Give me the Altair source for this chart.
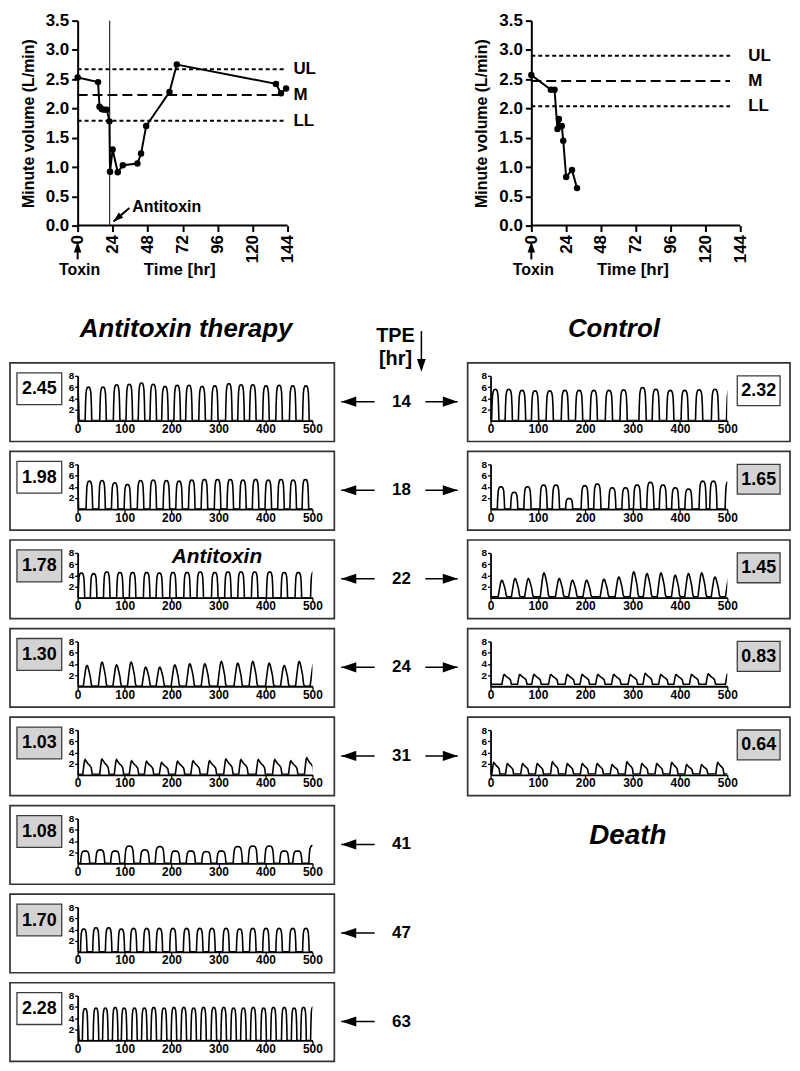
import altair as alt
import pandas as pd

FONT = "Liberation Sans"
BOX_GRAY = "#d3d3d3"
FRAME = "#333333"
ARROW = "M0,0L1,-0.34L1,0.34Z"

# ---------------- minute volume (top panels) ----------------
antitoxin_time = [0, 14, 15, 16.5, 18, 20, 21.8, 22.2, 24, 27.5, 31, 41, 43.5, 47, 63, 68, 136, 139.5, 143]
antitoxin_mv = [2.53, 2.45, 2.03, 1.99, 1.98, 1.98, 1.78, 0.92, 1.30, 0.91, 1.03, 1.06, 1.23, 1.70, 2.28, 2.75, 2.42, 2.26, 2.34]
control_time = [0, 13.5, 16, 18, 19, 19.8, 21, 22, 24, 28, 31.5]
control_mv = [2.57, 2.32, 2.32, 1.65, 1.82, 1.70, 1.70, 1.45, 0.83, 0.95, 0.64]
limit_names = ["UL", "M", "LL"]
antitoxin_limits = [2.67, 2.23, 1.79]
control_limits = [2.90, 2.47, 2.04]
antitoxin_dose_time = 22
time_ticks = [0, 24, 48, 72, 96, 120, 144]
mv_ticks = [0, 0.5, 1, 1.5, 2, 2.5, 3, 3.5]

# ---------------- breathing traces (bottom panels) ----------------
tpe_hours = [14, 18, 22, 24, 31, 41, 47, 63]
antitoxin_box = [2.45, 1.98, 1.78, 1.30, 1.03, 1.08, 1.70, 2.28]
control_box = [2.32, 1.65, 1.45, 0.83, 0.64]
wave_ticks_x = [0, 100, 200, 300, 400, 500]
wave_ticks_y = [2, 4, 6, 8]

# peak times (x axis units) and peak heights of each breath
a14_t = [-4, 23, 54, 83, 110, 136, 161, 186, 212, 237, 265, 292, 322, 348, 373, 401, 429, 458, 486]
a14_h = [6.0, 6.0, 6.0, 6.4, 6.5, 6.7, 6.5, 6.1, 6.3, 6.3, 6.1, 6.2, 6.6, 6.4, 6.4, 6.2, 6.3, 6.2, 6.2]
a18_t = [-5, 25, 52, 79, 106, 134, 161, 189, 216, 243, 270, 298, 325, 352, 379, 406, 433, 459, 485]
a18_h = [5.0, 5.0, 5.1, 4.7, 4.4, 5.1, 5.2, 5.1, 5.0, 5.2, 5.3, 5.3, 5.3, 5.2, 5.3, 5.2, 5.3, 5.2, 5.3]
a22_t = [8, 34, 62, 90, 117, 147, 174, 203, 233, 261, 292, 320, 348, 377, 409, 440, 470, 503]
a22_h = [4.4, 4.3, 4.6, 4.5, 4.5, 4.5, 4.4, 4.5, 4.5, 4.6, 4.5, 4.6, 4.6, 4.6, 4.6, 4.5, 4.5, 4.6]
a24_t = [20, 52, 83, 114, 145, 175, 207, 239, 271, 306, 341, 373, 408, 440, 472, 503]
a24_h = [3.7, 4.3, 3.8, 4.3, 3.4, 3.4, 3.8, 4.0, 4.0, 4.4, 4.1, 4.4, 4.1, 3.7, 4.4, 4.0]
a31_t = [16, 52, 83, 115, 147, 179, 213, 246, 281, 316, 348, 385, 420, 454, 488]
a31_h = [2.7, 2.8, 2.7, 2.5, 2.4, 2.2, 2.4, 2.5, 2.5, 2.8, 2.7, 2.7, 2.7, 2.5, 3.0]
a41_t = [16, 48, 80, 110, 143, 175, 208, 241, 274, 306, 341, 373, 408, 440, 468, 502]
a41_h = [2.2, 2.4, 2.2, 3.1, 2.4, 3.0, 2.2, 2.2, 2.1, 2.2, 3.0, 3.1, 3.1, 2.2, 2.2, 3.2]
a47_t = [13, 39, 66, 93, 119, 147, 174, 203, 232, 260, 286, 316, 345, 373, 401, 429, 458, 486]
a47_h = [4.1, 4.3, 4.3, 4.1, 4.2, 4.2, 4.2, 4.2, 4.2, 4.2, 4.2, 4.2, 4.1, 4.2, 4.2, 4.2, 4.2, 4.2]
a63_t = [-3, 16, 39, 59, 80, 99, 121, 142, 162, 184, 205, 226, 247, 268, 290, 311, 332, 353, 374, 396, 417, 440, 461, 481, 502]
a63_h = [3.5, 5.7, 5.8, 5.8, 5.9, 5.8, 5.8, 5.8, 5.9, 5.8, 5.9, 5.9, 5.8, 5.9, 5.9, 5.9, 5.8, 5.8, 5.9, 5.8, 5.9, 5.9, 5.8, 5.9, 6.0]
c14_t = [10, 38.5, 66.5, 94, 125, 157, 187, 218, 250, 281, 321, 349, 379.5, 410, 440.5, 474, 506]
c14_h = [5.6, 5.6, 5.4, 5.3, 5.3, 5.4, 5.4, 5.4, 5.4, 5.5, 5.9, 5.6, 5.4, 5.4, 5.5, 5.6, 5.6]
c18_t = [22, 50, 78, 112, 138, 166, 199, 225.5, 257, 285, 309.5, 337.5, 364, 390, 418, 448, 470.5, 503]
c18_h = [4.0, 3.0, 4.0, 4.3, 4.3, 1.9, 4.2, 4.5, 3.8, 3.8, 4.3, 4.8, 4.3, 3.8, 3.6, 5.0, 5.0, 4.9]
c22_t = [24, 52, 80, 113, 145, 173, 203, 239.5, 271, 302.5, 330.5, 360, 390, 418, 446, 474, 504]
c22_h = [3.1, 3.4, 3.4, 4.4, 3.4, 3.1, 3.1, 3.3, 3.7, 4.6, 4.3, 4.4, 4.0, 4.3, 4.4, 3.7, 3.6]
c24_t = [29, 62, 92, 127.5, 162.5, 194, 227, 260.5, 295.5, 327, 360, 392, 425, 460, 501]
c24_h = [2.1, 2.1, 2.1, 2.1, 2.1, 2.1, 2.1, 2.1, 2.1, 2.3, 2.1, 2.1, 2.1, 2.2, 2.2]
c31_t = [7, 36, 68, 99, 131, 162.5, 194, 225.5, 257, 288.5, 320, 351.5, 383, 414.5, 446, 480]
c31_h = [2.2, 2.0, 2.0, 2.0, 2.3, 2.0, 2.0, 2.0, 1.8, 2.3, 2.0, 2.0, 2.2, 1.8, 1.8, 2.2]

antitoxin_peaks = [(a14_t, a14_h), (a18_t, a18_h), (a22_t, a22_h), (a24_t, a24_h),
                   (a31_t, a31_h), (a41_t, a41_h), (a47_t, a47_h), (a63_t, a63_h)]
control_peaks = [(c14_t, c14_h), (c18_t, c18_h), (c22_t, c22_h), (c24_t, c24_h), (c31_t, c31_h)]

# breath outline style per panel: (template, stretch, resting baseline)
antitoxin_style = [("round", 1.0, 0), ("round", 1.0, 0), ("round", 1.0, 0), ("skew", 1.0, 0),
                   ("decay", 1.0, 0.1), ("round", 1.4, 0), ("round", 1.0, 0), ("round", 0.85, 0)]
control_style = [("round", 1.1, 0), ("round", 1.1, 0), ("skew", 1.0, 0.15), ("decay", 1.0, 0.35),
                 ("decay", 0.85, 0.15)]

BREATH_SHAPES = {
    "round": ([-7, -6.3, -5.3, -4, -2.3, 0, 2.3, 4, 5.3, 6.3, 7],
              [0, 0.45, 0.8, 0.93, 0.99, 1, 0.99, 0.93, 0.8, 0.45, 0]),
    "skew": ([-8, -5, -2.5, -1, 0, 1.5, 4, 7, 9, 11],
             [0, 0.5, 0.88, 0.98, 1, 0.96, 0.75, 0.45, 0.1, 0]),
    "decay": ([-5, -3, -1.2, 0, 2.5, 6, 10, 13, 15],
              [0, 0.55, 0.95, 1, 0.88, 0.72, 0.6, 0.45, 0]),
}


def breath_table(peak_t, peak_h, shape, stretch, base):
    offs, fracs = BREATH_SHAPES[shape]
    pts = []
    for t, h in zip(peak_t, peak_h):
        for o, f in zip(offs, fracs):
            pts.append((t + o * stretch, base + f * (h - base)))
    pts.sort()
    if pts[0][0] > 0:
        pts.insert(0, (0.0, base))
    if pts[-1][0] < 500:
        pts.append((500.0, base))
    return pd.DataFrame(pts, columns=["s", "p"])


# ---------------- top charts ----------------
TOP_H = 206


def mv_chart(times, vals, limits, line_end, label_x, plot_w, shift, dose=None):
    width = plot_w + shift
    px_hr = plot_w / 144.0
    xs = alt.Scale(domain=[-shift / px_hr, 144], nice=False, zero=False)
    ys = alt.Scale(domain=[0, 3.5], nice=False, zero=False)
    xax = alt.Axis(values=time_ticks, labelAngle=270, labelFontSize=17, labelPadding=3,
                   tickSize=6, tickWidth=2, domain=False, title=None, labelFlush=False,
                   labelOverlap=False, grid=False)
    yax = alt.Axis(values=mv_ticks, format=".1f", labelFontSize=17, labelPadding=3,
                   tickSize=6, tickWidth=2, domainWidth=2, title="Minute volume (L/min)",
                   titleFontSize=16, titlePadding=9, offset=-shift, labelFlush=False,
                   labelOverlap=False, grid=False)

    def X(f):
        return alt.X(f, scale=xs, axis=xax)

    def Y(f):
        return alt.Y(f, scale=ys, axis=yax)

    df = pd.DataFrame({"t": times, "v": vals, "i": list(range(len(times)))})
    lim = pd.DataFrame({"name": limit_names, "lv": limits, "a": [0] * 3,
                        "b": [line_end] * 3, "xl": [label_x] * 3})
    base = pd.DataFrame({"a": [0], "b": [144], "z": [0]})
    zero = pd.DataFrame({"t": [0], "tt": [70]})

    layers = [
        alt.Chart(base).mark_rule(color="black", strokeWidth=2).encode(
            x=X("a:Q"), x2="b:Q", y=Y("z:Q")),
        alt.Chart(lim).mark_rule(color="black", strokeWidth=2).encode(
            x=X("a:Q"), x2="b:Q", y=Y("lv:Q"),
            strokeDash=alt.StrokeDash("name:N", legend=None,
                                      scale=alt.Scale(domain=limit_names,
                                                      range=[[4, 3], [10, 5], [4, 3]]))),
        alt.Chart(lim).mark_text(font=FONT, fontSize=17, fontWeight="bold", align="left").encode(
            x=X("xl:Q"), y=Y("lv:Q"), text="name:N"),
    ]
    if dose is not None:
        dd = pd.DataFrame({"t": [dose], "x1": [35.5], "y1": [0.30], "x2": [24.6], "y2": [0.068],
                           "xt": [37.5], "yt": [0.31]})
        layers += [
            alt.Chart(dd).mark_rule(color="black", strokeWidth=1).encode(x=X("t:Q")),
            alt.Chart(dd).mark_rule(color="black", strokeWidth=2).encode(
                x=X("x1:Q"), y=Y("y1:Q"), x2="x2:Q", y2="y2:Q"),
            alt.Chart(dd).mark_point(shape=ARROW, size=400, filled=True, color="black",
                                     opacity=1, angle=319).encode(x=X("x2:Q"), y=Y("y2:Q")),
            alt.Chart(dd).mark_text(font=FONT, fontSize=16, fontWeight="bold", align="left",
                                    text="Antitoxin").encode(x=X("xt:Q"), y=Y("yt:Q")),
        ]
    layers += [
        alt.Chart(df).mark_line(color="black", strokeWidth=2).encode(
            x=X("t:Q"), y=Y("v:Q"), order="i:Q"),
        alt.Chart(df).mark_circle(color="black", size=42, opacity=1).encode(
            x=X("t:Q"), y=Y("v:Q")),
        alt.Chart(zero).mark_rule(color="black", strokeWidth=2).encode(
            x=X("t:Q"), y=alt.value(TOP_H + 24), y2=alt.value(TOP_H + 34)),
        alt.Chart(zero).mark_point(shape=ARROW, size=484, filled=True, color="black",
                                   opacity=1, angle=90).encode(
            x=X("t:Q"), y=alt.value(TOP_H + 16)),
        alt.Chart(zero).mark_text(font=FONT, fontSize=16, fontWeight="bold", text="Toxin",
                                  dx=2).encode(x=X("t:Q"), y=alt.value(TOP_H + 45)),
        alt.Chart(zero).mark_text(font=FONT, fontSize=17, fontWeight="bold",
                                  text="Time [hr]").encode(x=X("tt:Q"), y=alt.value(TOP_H + 45)),
    ]
    return alt.layer(*layers).properties(width=width, height=TOP_H)


top_left = mv_chart(antitoxin_time, antitoxin_mv, antitoxin_limits, 143, 148, 211, 0,
                    dose=antitoxin_dose_time)
top_right = mv_chart(control_time, control_mv, control_limits, 137, 149.5, 210, 41)


# ---------------- waveform panels ----------------
def wave_panel(side, peaks, style, value, lower_limit, note=None):
    w = 236 if side == "L" else 238
    shape, stretch, rest = style
    xs = alt.Scale(domain=[0, 500], nice=False, zero=False)
    ys = alt.Scale(domain=[0, 8], nice=False, zero=False)
    xax = alt.Axis(values=wave_ticks_x, labelFontSize=12, labelPadding=-1, tickSize=4,
                   tickWidth=1.3, domainWidth=1.8, labelAngle=0, title=None,
                   labelFlush=False, labelOverlap=False, grid=False)
    yax = alt.Axis(values=wave_ticks_y, labelFontSize=10, labelPadding=1, tickSize=3,
                   tickWidth=1.3, domainWidth=1.8, title=None, labelFlush=False,
                   labelOverlap=False, grid=False)
    wave = alt.Chart(breath_table(peaks[0], peaks[1], shape, stretch, rest)).mark_line(
        color="black", strokeWidth=1.6, clip=True).encode(
        x=alt.X("s:Q", scale=xs, axis=xax), y=alt.Y("p:Q", scale=ys, axis=yax))
    one = alt.Chart(pd.DataFrame({"v": [value]}))
    if side == "L":
        fx, bx, by = (-68, 258), (-61, -16), (-3, 29)
    else:
        fx, bx, by = (-23, 301), (248, 291), (0, 30)
    frame = one.mark_rect(fill="transparent", stroke=FRAME, strokeWidth=1.7).encode(
        x=alt.value(fx[0]), x2=alt.value(fx[1]), y=alt.value(-13), y2=alt.value(66))
    box = one.mark_rect(stroke="#3c3c3c", strokeWidth=1.3).encode(
        x=alt.value(bx[0]), x2=alt.value(bx[1]), y=alt.value(by[0]), y2=alt.value(by[1]),
        fill=alt.when(alt.datum.v < lower_limit).then(alt.value(BOX_GRAY)).otherwise(alt.value("white")))
    txt = one.mark_text(font=FONT, fontSize=18, fontWeight="bold").encode(
        x=alt.value((bx[0] + bx[1]) / 2), y=alt.value((by[0] + by[1]) / 2 + 0.5),
        text=alt.Text("v:Q", format=".2f"))
    layers = [frame, box, txt, wave]
    if note:
        layers.append(one.mark_text(font=FONT, fontSize=21, fontWeight="bold",
                                    fontStyle="italic", text=note).encode(
            x=alt.value(140), y=alt.value(4)))
    return alt.layer(*layers).properties(width=w, height=45)


def arrow_layers(base, tip, tail, y, angle):
    lo, hi = min(tip, tail), max(tip, tail)
    return [
        base.mark_rule(color="black", strokeWidth=1.5).encode(
            x=alt.value(lo), x2=alt.value(hi), y=alt.value(y)),
        base.mark_point(shape=ARROW, size=900, filled=True, color="black", opacity=1,
                        angle=angle).encode(x=alt.value(tip), y=alt.value(y)),
    ]


def center_cell(hour, both):
    base = alt.Chart(pd.DataFrame({"h": [hour]}))
    layers = [base.mark_text(font=FONT, fontSize=17, fontWeight="bold").encode(
        x=alt.value(79.5), y=alt.value(26), text="h:Q")]
    layers += arrow_layers(base, 19, 52.5, 26, 0)
    if both:
        layers += arrow_layers(base, 136, 103.5, 26, 180)
    return alt.layer(*layers).properties(width=159, height=68.5)


def text_cell(label, x, y, size, w, h, italic=True):
    kw = {"fontStyle": "italic"} if italic else {}
    return alt.Chart(pd.DataFrame({"a": [0]})).mark_text(
        font=FONT, fontSize=size, fontWeight="bold", text=label, **kw).encode(
        x=alt.value(x), y=alt.value(y)).properties(width=w, height=h)


def blank_cell(w, h):
    return alt.Chart(pd.DataFrame({"a": [0]})).mark_text(text="").encode(
        x=alt.value(0), y=alt.value(0)).properties(width=w, height=h)


tbase = alt.Chart(pd.DataFrame({"a": [0]}))
tpe_head = alt.layer(
    tbase.mark_text(font=FONT, fontSize=20, fontWeight="bold", text="TPE").encode(
        x=alt.value(73.5), y=alt.value(91)),
    tbase.mark_text(font=FONT, fontSize=20, fontWeight="bold", text="[hr]").encode(
        x=alt.value(73.5), y=alt.value(114)),
    tbase.mark_rule(color="black", strokeWidth=1.5).encode(
        x=alt.value(99.5), y=alt.value(86), y2=alt.value(118)),
    tbase.mark_point(shape=ARROW, size=676, filled=True, color="black", opacity=1,
                     angle=270).encode(x=alt.value(99.5), y=alt.value(127)),
).properties(width=159, height=111)

cells = [
    top_left, blank_cell(159, 1), top_right,
    text_cell("Antitoxin therapy", 109, 84, 26, 236, 111),
    tpe_head,
    text_cell("Control", 124, 84, 26, 1, 111),
]
for k, hour in enumerate(tpe_hours):
    cells.append(wave_panel("L", antitoxin_peaks[k], antitoxin_style[k], antitoxin_box[k],
                            antitoxin_limits[2], note="Antitoxin" if hour == 22 else None))
    cells.append(center_cell(hour, k < len(control_box)))
    if k < len(control_box):
        cells.append(wave_panel("R", control_peaks[k], control_style[k], control_box[k],
                                control_limits[2]))
    elif k == len(control_box):
        cells.append(text_cell("Death", 138, 18, 28, 1, 45))
    else:
        cells.append(blank_cell(1, 45))

chart = alt.concat(
    *cells, columns=3, spacing={"row": 20, "column": 10}, bounds="flush", align="each"
).properties(padding=0).configure_view(stroke="transparent").configure_axis(
    labelFont=FONT, titleFont=FONT, labelFontWeight="bold", titleFontWeight="bold",
    labelColor="black", titleColor="black", domainColor="black", tickColor="black", grid=False
)

chart.save("out.html", embed_options={"renderer": "svg", "actions": False})
